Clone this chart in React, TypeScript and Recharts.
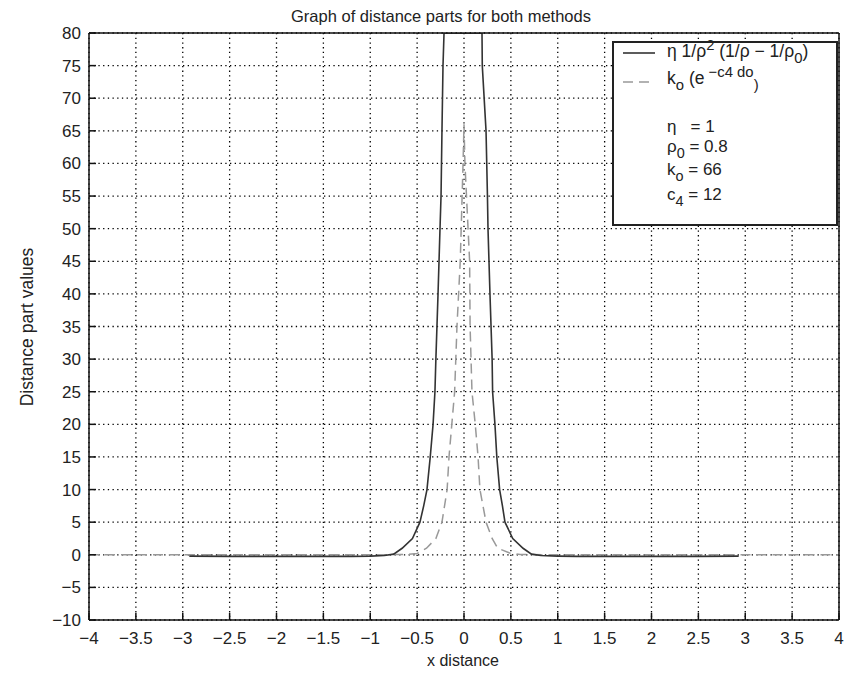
import { CartesianGrid, Line, LineChart, XAxis, YAxis } from 'recharts'

// x ticks and y ticks as on the reference
const xTicks = [-4, -3.5, -3, -2.5, -2, -1.5, -1, -0.5, 0, 0.5, 1, 1.5, 2, 2.5, 3, 3.5, 4]
const yTicks = [-10, -5, 0, 5, 10, 15, 20, 25, 30, 35, 40, 45, 50, 55, 60, 65, 70, 75, 80]

// solid curve: eta 1/rho^2 (1/rho - 1/rho0)
const solidX = [
  -2.93, -2.5, -2, -1.5, -1.2, -1, -0.85, -0.75, -0.66, -0.55, -0.47, -0.43, -0.395, -0.36, -0.33,
  -0.31, -0.3, -0.277, -0.256, -0.245, -0.235, -0.224, -0.213,
  0.192, 0.195, 0.235, 0.25, 0.256, 0.277, 0.3, 0.305, 0.33, 0.35, 0.38, 0.41, 0.437, 0.52, 0.63,
  0.72, 0.82, 1, 1.2, 1.5, 2, 2.5, 2.93,
]
const solidY = [
  -0.2, -0.25, -0.25, -0.25, -0.25, -0.2, -0.1, 0.1, 1, 2.5, 5, 7.5, 10, 15, 20,
  25, 30, 40, 50, 55, 65, 75, 80,
  80, 75, 65, 55, 50, 40, 30, 25, 20, 15, 10, 7.5, 5, 2.5, 1,
  0.1, -0.1, -0.2, -0.25, -0.25, -0.25, -0.25, -0.2,
]

// dashed curve: k0 (e^-c4 do)
const dashedX = [
  -4, -2, -1, -0.6, -0.5, -0.4, -0.3, -0.235, -0.18, -0.16, -0.13, -0.1, -0.075, -0.04, -0.01, 0,
  0.01, 0.06, 0.065, 0.085, 0.12, 0.15, 0.17, 0.235, 0.3, 0.36, 0.5, 0.6, 1, 2, 4,
]
const dashedY = [
  0, 0, 0, 0.05, 0.2, 1, 2.5, 5, 10, 15, 20, 25, 35, 45, 60, 66,
  60, 45, 35, 25, 20, 15, 10, 5, 2.5, 1, 0.2, 0.05, 0, 0, 0,
]

const solidData = solidX.map((x, i) => ({ x, y: solidY[i] }))
const dashedData = dashedX.map((x, i) => ({ x, y: dashedY[i] }))

const font = '"Liberation Sans", Arial, Helvetica, sans-serif'
const fmt = (v: number) => String(v).replace('-', '\u2212')

const abs = (left: number, top: number, extra: React.CSSProperties = {}): React.CSSProperties => ({
  position: 'absolute',
  left,
  top,
  fontFamily: font,
  fontSize: 17,
  color: '#222',
  whiteSpace: 'nowrap',
  lineHeight: 1,
  ...extra,
})

const Sub = ({ children }: { children: React.ReactNode }) => (
  <span style={{ position: 'relative', top: '0.4em', fontSize: '0.85em' }}>{children}</span>
)
const Sup = ({ children }: { children: React.ReactNode }) => (
  <span style={{ position: 'relative', top: '-0.45em', fontSize: '0.85em' }}>{children}</span>
)

const axisStyle = { stroke: '#111', strokeWidth: 1.5 }

export default function App() {
  return (
    <div style={{ position: 'relative', width: 847, height: 666, background: '#fff' }}>
      <LineChart
        width={847}
        height={666}
        margin={{ top: 20, right: 10, bottom: 24, left: 0 }}
        style={{ fontFamily: font }}
      >
        <CartesianGrid xAxisId='b' yAxisId='l' stroke='#000' strokeWidth={1.3} strokeDasharray='1.3 3.4' />
        <XAxis
          xAxisId='b'
          type='number'
          dataKey='x'
          domain={[-4, 4]}
          ticks={xTicks}
          allowDataOverflow
          height={30}
          tickSize={-7}
          tickMargin={19}
          tickFormatter={fmt}
          interval={0}
          tick={{ fill: '#222', fontSize: 17 }}
          axisLine={axisStyle}
          tickLine={axisStyle}
        />
        <XAxis
          xAxisId='t'
          orientation='top'
          type='number'
          dataKey='x'
          domain={[-4, 4]}
          ticks={xTicks}
          allowDataOverflow
          height={5}
          tickSize={-7}
          tick={false}
          interval={0}
          axisLine={axisStyle}
          tickLine={axisStyle}
        />
        <YAxis
          yAxisId='l'
          type='number'
          domain={[-10, 80]}
          ticks={yTicks}
          allowDataOverflow
          width={81}
          tickSize={-7}
          tickMargin={15}
          tickFormatter={fmt}
          interval={0}
          tick={{ fill: '#222', fontSize: 17 }}
          axisLine={axisStyle}
          tickLine={axisStyle}
        />
        <YAxis
          yAxisId='r'
          orientation='right'
          type='number'
          domain={[-10, 80]}
          ticks={yTicks}
          allowDataOverflow
          width={6}
          tickSize={-7}
          tick={false}
          interval={0}
          axisLine={axisStyle}
          tickLine={axisStyle}
        />
        <Line
          xAxisId='b'
          yAxisId='l'
          data={dashedData}
          dataKey='y'
          type='linear'
          stroke='#999'
          strokeWidth={1.5}
          strokeDasharray='10 6'
          dot={false}
          isAnimationActive={false}
        />
        <Line
          xAxisId='b'
          yAxisId='l'
          data={solidData}
          dataKey='y'
          type='linear'
          stroke='#333'
          strokeWidth={1.6}
          dot={false}
          isAnimationActive={false}
        />
      </LineChart>

      {/* title and axis labels */}
      <div style={abs(433, 8, { fontSize: 16.5, transform: 'translate(-50%, -50%)' })}>
        Graph of distance parts for both methods
      </div>
      <div style={abs(455, 653, { fontSize: 16, transform: 'translate(-50%, -50%)' })}>x distance</div>
      <div style={abs(20, 319, { fontSize: 17.5, transform: 'translate(-50%, -50%) rotate(-90deg)' })}>
        Distance part values
      </div>

      {/* legend box */}
      <div
        style={{
          position: 'absolute',
          left: 604,
          top: 33,
          width: 222,
          height: 181,
          border: '2px solid #222',
          background: '#fff',
        }}
      />
      <svg style={{ position: 'absolute', left: 0, top: 0 }} width={847} height={666} pointerEvents='none'>
        <line x1={615} y1={45} x2={647} y2={45} stroke='#333' strokeWidth={1.6} />
        <line x1={615} y1={74} x2={647} y2={74} stroke='#999' strokeWidth={1.5} strokeDasharray='10 6' />
      </svg>
      <div style={abs(659, 35, { fontSize: 17.5 })}>
        η 1/ρ<Sup>2</Sup> (1/ρ − 1/ρ<Sub>0</Sub>)
      </div>
      <div style={abs(659, 62, { fontSize: 17.5 })}>
        k<Sub>o</Sub> (e<Sup> −c4 do</Sup><Sub>)</Sub>
      </div>
      <div style={abs(659, 110)}>η&nbsp;&nbsp;&nbsp;= 1</div>
      <div style={abs(659, 130)}>
        ρ<Sub>0</Sub> = 0.8
      </div>
      <div style={abs(659, 153)}>
        k<Sub>o</Sub> = 66
      </div>
      <div style={abs(659, 178)}>
        c<Sub>4</Sub> = 12
      </div>
    </div>
  )
}
